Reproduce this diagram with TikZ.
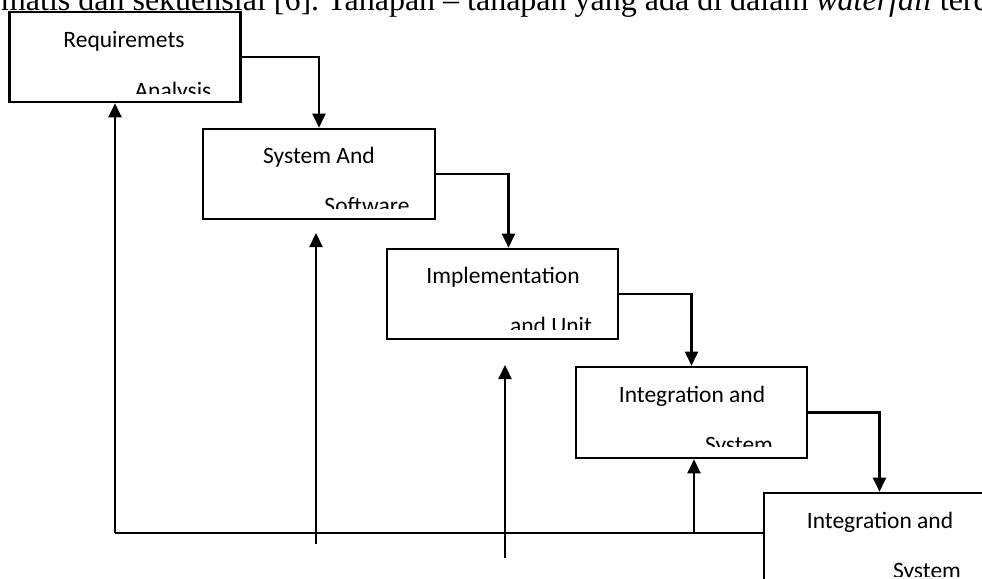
\documentclass[tikz,border=0pt]{standalone}
\usepackage{fontspec}
\setmainfont{Liberation Serif}
\newfontfamily\boxfont{Carlito}
\usetikzlibrary{arrows.meta}

\begin{document}
\begin{tikzpicture}[x=1pt,y=-1pt,
  stage/.style={draw, line width=2.6pt, minimum width=231pt, minimum height=90pt, inner sep=0pt},
  flow/.style={line width=2.2pt, -{Triangle[width=13pt,length=14pt]}},
  plain/.style={line width=2.2pt},
  lbl/.style={font=\boxfont\fontsize{23.5pt}{28pt}\selectfont, inner sep=0pt, anchor=base},
  bodytext/.style={font=\fontsize{32pt}{38pt}\selectfont, inner sep=0pt, anchor=base west}
]
\useasboundingbox (0,0) rectangle (982,578);
\clip (0,0) rectangle (982,578);

% running text of the page above the figure
\node[bodytext] (intro) at (327,11)
  {\llap{sistematis dan sekuensial [6].\ }Tahapan – tahapan yang ada di dalam \textit{waterfall} terdiri dari:};

% stage boxes
\node[stage] (b1) at (125,57) {};
\node[stage, minimum width=232pt] (b2) at (319,174) {};
\node[stage] (b3) at (502.5,294) {};
\node[stage, minimum height=91pt] (b4) at (691.5,412.5) {};
\node[stage] (b5) at (879.5,538) {};

% first lines of the labels
\node[lbl] (t1) at (124,48) {Requiremets};
\node[lbl] (t2) at (319,163) {System And};
\node[lbl] (t3) at (503,283) {Implementation};
\node[lbl] (t4) at (692,402) {Integration and};
\node[lbl] (t5) at (880,528) {Integration and};

% second lines, cut off by their text frames
\begin{scope}
  \clip (10,12) rectangle (240,93);
  \node[lbl] (s1) at (173,98) {Analysis};
\end{scope}
\begin{scope}
  \clip (203,129) rectangle (435,208);
  \node[lbl] (s2) at (367,213) {Software};
\end{scope}
\begin{scope}
  \clip (387,249) rectangle (618,329);
  \node[lbl] (s3) at (551,333) {and Unit};
\end{scope}
\begin{scope}
  \clip (576,367) rectangle (807,446);
  \node[lbl] (s4) at (739,452) {System};
\end{scope}
\begin{scope}
  \clip (764,493) rectangle (995,576);
  \node[lbl] (s5) at (927,578) {System};
\end{scope}

% downward flow between stages
\draw[flow] (b1.east) -| (b2.north);
\draw[flow] (b2.east) -| ([xshift=6pt]b3.north);
\draw[flow] (b3.east) -| (b4.north);
\draw[flow] (b4.east) -| (b5.north);

% feedback lines
\coordinate (fb) at (115,533);
\draw[flow] (fb) -- (fb |- b1.south);
\draw[plain] (fb) -- (fb -| b5.west);
\coordinate (r2) at (316,544);
\coordinate (h2) at (316,233);
\draw[flow] (r2) -- (h2);
\coordinate (r3) at (505,558);
\coordinate (h3) at (505,365);
\draw[flow] (r3) -- (h3);
\coordinate (r4) at (694,533);
\draw[flow] (r4) -- (r4 |- b4.south);
\end{tikzpicture}
\end{document}
